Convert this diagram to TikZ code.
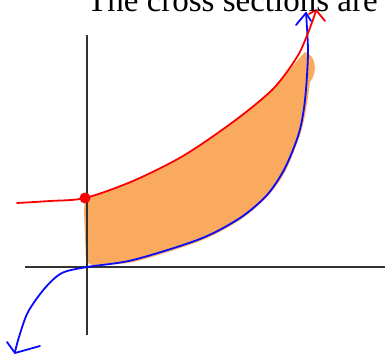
\documentclass[tikz,border=0pt]{standalone}
\usepackage{fontspec}
\setmainfont{Liberation Serif}
\definecolor{hl}{RGB}{250,170,95}
\definecolor{axisgray}{RGB}{50,50,50}
\definecolor{pen red}{RGB}{250,0,0}
\definecolor{pen blue}{RGB}{10,10,250}
\tikzset{
  axisline/.style={axisgray, line width=2.6pt},
  redpen/.style={pen red, line width=1.8pt, line cap=round, line join=round},
  bluepen/.style={pen blue, line width=1.8pt, line cap=round, line join=round},
}
\begin{document}
\begin{tikzpicture}[x=1pt,y=-1pt]
\useasboundingbox (0,0) rectangle (385,358);
\clip (0,0) rectangle (385,358);
% shaded region
\fill[hl] plot[smooth] coordinates {(85,199) (133,182) (183,157) (233,123) (273,89) (296,62) (305,52)}
  .. controls (316,55) and (318,72) .. (310,82)
  -- plot[smooth] coordinates {(310,82) (306,110) (300,135) (285,172) (267,197) (240,220) (200,241) (133,262) (92,265)}
  -- (86,262) -- (84,210) -- cycle;
% axes
\draw[axisline] (87,35) -- (87,335);
\draw[axisline] (25,267) -- (385,267);
% blue curve
\draw[bluepen] plot[smooth] coordinates {(15,352) (19,337) (28,312) (45,288) (62,273) (87,267) (133,260) (200,239) (240,218) (267,195) (285,168) (299,133) (305,100) (308,53) (306,13)};
\draw[bluepen] (296,25) -- (306,13) -- (311,21);
\draw[bluepen] (7,342) -- (15,353) -- (40,346);
% red curve
\draw[redpen] plot[smooth] coordinates {(17,203) (50,201) (85,198) (133,181) (183,156) (233,122) (273,89) (297,57) (308,33) (316,11)};
\draw[redpen] (309,14) -- (316,10) -- (325,21);
\fill[pen red] (85,198) circle (5.5);
% text
\node[anchor=base west, inner sep=0pt, font=\fontsize{33}{36}\selectfont] at (87,12) {The cross sections are};
\end{tikzpicture}
\end{document}
